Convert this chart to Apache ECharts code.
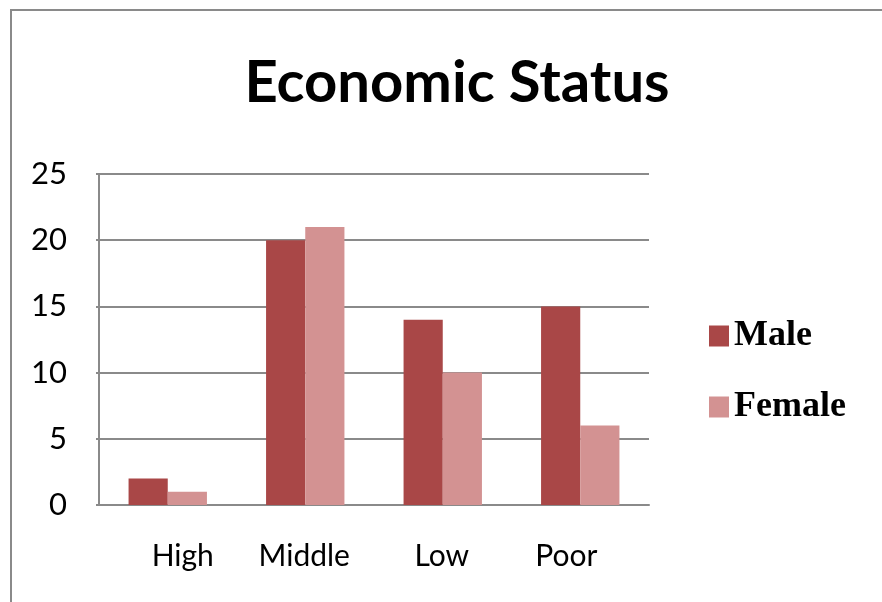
<!DOCTYPE html>
<html>
<head>
<meta charset="utf-8">
<script src="https://cdn.jsdelivr.net/npm/echarts@6/dist/echarts.min.js"></script>
<style>
  html, body { margin: 0; padding: 0; background: #fff; }
  #chart { width: 882px; height: 602px; }
</style>
</head>
<body>
<div id="chart"></div>
<script>
// Economic status by gender
const categories = ['High', 'Middle', 'Low', 'Poor'];
const maleValues = [2, 20, 14, 15];
const femaleValues = [1, 21, 10, 6];
const yTicks = [0, 5, 10, 15, 20, 25];

const gray = '#8a8a8a';
// small per-label horizontal nudges for the category captions
const labelPad = {
  High: [0, 0, 0, 30],
  Middle: [0, 2, 0, 0],
  Low: [0, 2, 0, 0],
  Poor: [0, 28, 0, 0]
};

const chart = echarts.init(document.getElementById('chart'), null, { renderer: 'canvas' });
chart.setOption({
  animation: false,
  backgroundColor: '#fff',
  title: {
    text: 'Economic Status',
    left: 452,
    top: 49,
    textAlign: 'center',
    textStyle: { fontFamily: 'Lato', fontWeight: 'bold', fontSize: 58, color: '#000' }
  },
  graphic: [{
    type: 'polyline',
    shape: { points: [[11, 602], [11, 10], [882, 10]] },
    style: { stroke: gray, lineWidth: 2, fill: null }
  }],
  legend: {
    orient: 'vertical',
    left: 704,
    top: 313,
    itemWidth: 20,
    itemHeight: 21,
    itemGap: 35,
    icon: 'rect',
    textStyle: { fontFamily: 'Liberation Serif', fontWeight: 'bold', fontSize: 36, color: '#000', padding: [0, 0, 0, 0] },
    data: ['Male', 'Female']
  },
  grid: { left: 99, right: 233, top: 174, bottom: 97, containLabel: false },
  xAxis: {
    type: 'category',
    data: categories.map(c => ({ value: c, textStyle: { padding: labelPad[c] } })),
    axisLine: { show: true, lineStyle: { color: gray, width: 2 } },
    axisTick: { show: false },
    axisLabel: { margin: 36, fontFamily: 'Lato', fontSize: 30, color: '#000' },
    splitLine: { show: false }
  },
  yAxis: {
    type: 'value',
    min: yTicks[0],
    max: yTicks[yTicks.length - 1],
    interval: 5,
    axisLine: { show: true, lineStyle: { color: gray, width: 2 } },
    axisTick: { show: true, length: 3, lineStyle: { color: gray, width: 2 } },
    axisLabel: { margin: 32, fontFamily: 'Lato', fontSize: 31, color: '#000' },
    splitLine: { show: true, lineStyle: { color: gray, width: 2 } }
  },
  series: [
    {
      name: 'Male',
      type: 'bar',
      data: maleValues,
      barGap: '0%',
      barCategoryGap: '43%',
      itemStyle: { color: '#A94747' }
    },
    {
      name: 'Female',
      type: 'bar',
      data: femaleValues,
      barGap: '0%',
      barCategoryGap: '43%',
      itemStyle: { color: '#D39292' }
    }
  ]
});
</script>
</body>
</html>
